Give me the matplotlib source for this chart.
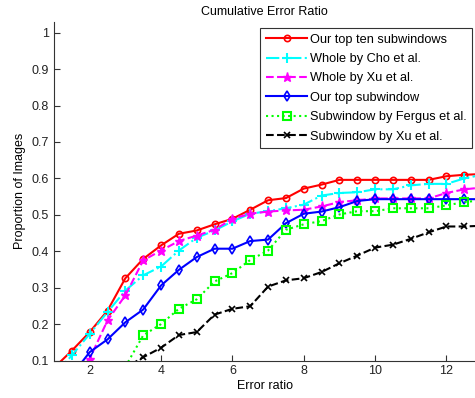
import numpy as np
import matplotlib
matplotlib.use('Agg')
from matplotlib import pyplot as plt

plt.rcParams['font.family'] = ['Liberation Sans', 'DejaVu Sans']

# Error ratio (x) values
razao = [1.0, 1.5, 2.0, 2.5, 3.0, 3.5, 4.0, 4.5, 5.0, 5.5, 6.0, 6.5, 7.0,
         7.5, 8.0, 8.5, 9.0, 9.5, 10.0, 10.5, 11.0, 11.5, 12.0, 12.5, 13.0]

top_dez = [0.08, 0.127, 0.178, 0.237, 0.326, 0.379, 0.416, 0.448, 0.457, 0.474, 0.489, 0.514, 0.540,
           0.546, 0.572, 0.583, 0.596, 0.596, 0.596, 0.596, 0.596, 0.596, 0.606, 0.610, 0.612]
cho = [0.06, 0.114, 0.173, 0.233, 0.292, 0.334, 0.358, 0.402, 0.437, 0.457, 0.482, 0.503, 0.510,
       0.518, 0.528, 0.553, 0.560, 0.562, 0.570, 0.570, 0.581, 0.585, 0.585, 0.600, 0.610]
xu_inteira = [0.02, 0.05, 0.105, 0.210, 0.279, 0.375, 0.402, 0.428, 0.443, 0.459, 0.489, 0.503, 0.509,
              0.512, 0.514, 0.523, 0.535, 0.540, 0.545, 0.545, 0.545, 0.545, 0.560, 0.570, 0.575]
top_um = [0.0, 0.06, 0.123, 0.158, 0.205, 0.240, 0.306, 0.349, 0.384, 0.407, 0.407, 0.428, 0.432,
          0.477, 0.503, 0.509, 0.521, 0.538, 0.543, 0.543, 0.543, 0.543, 0.543, 0.543, 0.543]
fergus = [0.0, 0.0, 0.0, 0.03, 0.083, 0.169, 0.200, 0.242, 0.268, 0.317, 0.340, 0.376, 0.402,
          0.459, 0.474, 0.483, 0.501, 0.510, 0.510, 0.518, 0.518, 0.518, 0.526, 0.535, 0.540]
xu_sub = [0.0, 0.0, 0.0, 0.03, 0.080, 0.109, 0.135, 0.170, 0.178, 0.226, 0.242, 0.249, 0.303,
          0.320, 0.326, 0.343, 0.367, 0.388, 0.410, 0.418, 0.434, 0.452, 0.468, 0.468, 0.470]

rotulos = ['Our top ten subwindows', 'Whole by Cho et al.', 'Whole by Xu et al.',
           'Our top subwindow', 'Subwindow by Fergus et al.', 'Subwindow by Xu et al.']

fig = plt.figure(figsize=(4.75, 3.98), dpi=100)
ax = fig.add_axes([0.1137, 0.0942, 0.8863, 0.851])

lw = 1.5
ax.plot(razao, top_dez, color='#ff0000', ls='-', lw=lw, marker='o', ms=4.5, mfc='none', mew=1.2, label=rotulos[0])
ax.plot(razao, cho, color='#00ffff', ls='-.', lw=lw, marker='+', ms=6.5, mew=1.5, label=rotulos[1])
ax.plot(razao, xu_inteira, color='#ff00ff', ls='--', lw=lw, marker='*', ms=6.5, mew=1.0, label=rotulos[2])
ax.plot(razao, top_um, color='#0000ff', ls='-', lw=lw, marker='d', ms=5, mfc='none', mew=1.2, label=rotulos[3])
ax.plot(razao, fergus, color='#00ff00', ls=':', lw=lw, marker='s', ms=5.5, mfc='none', mew=1.5, label=rotulos[4])
ax.plot(razao, xu_sub, color='black', ls='--', lw=lw, marker='x', ms=4.5, mew=1.2, label=rotulos[5])

ax.set_xlim(1, 12.8)
ax.set_ylim(0.1, 1.03)
ax.set_xticks([2, 4, 6, 8, 10, 12])
ax.set_yticks(np.arange(0.1, 1.01, 0.1))
ax.set_yticklabels(['0.1', '0.2', '0.3', '0.4', '0.5', '0.6', '0.7', '0.8', '0.9', '1'])
ax.tick_params(direction='in', length=4, labelsize=9, colors='#333333', labelcolor='#222222')
ax.spines['top'].set_visible(False)
ax.spines['right'].set_visible(False)
ax.spines['left'].set_color('#333333')
ax.spines['bottom'].set_color('#333333')

ax.set_title('Cumulative Error Ratio', fontsize=9, pad=5)
ax.set_xlabel('Error ratio', fontsize=9, labelpad=2)
ax.set_ylabel('Proportion of Images', fontsize=9, labelpad=4)

leg = ax.legend(loc='upper right', bbox_to_anchor=(0.994, 0.93, 0, 0), bbox_transform=fig.transFigure,
                fontsize=9.2, frameon=True, fancybox=False, handlelength=3.2, handletextpad=0.2,
                borderpad=0.45, labelspacing=0.58, borderaxespad=0)
leg.get_frame().set_edgecolor('black')
leg.get_frame().set_linewidth(0.8)

plt.savefig('out.png', dpi=100)
